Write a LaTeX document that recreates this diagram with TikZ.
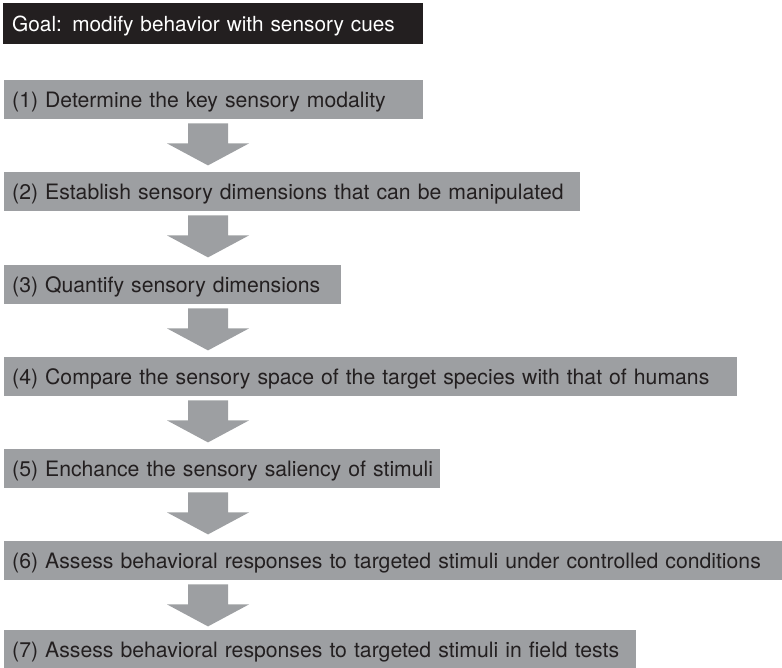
\documentclass[tikz,border=0pt]{standalone}
\usepackage{fontspec}
\setmainfont{TeX Gyre Heros}
\usetikzlibrary{positioning,calc}

\definecolor{stepgray}{HTML}{9D9FA2}
\definecolor{inkdark}{HTML}{231F20}

\begin{document}
\begin{tikzpicture}[
  x=1pt, y=-1pt,
  oneline/.style={execute at begin node={\hbox\bgroup}, execute at end node={\egroup}},
  goalbox/.style={rectangle, fill=inkdark, text=white, anchor=north west, align=left,
                  font=\fontsize{20.8}{24}\selectfont, oneline,
                  inner xsep=9pt, minimum height=41pt, text height=15pt, text depth=0pt,
                  text width=#1},
  stepbox/.style={rectangle, fill=stepgray, text=inkdark, anchor=north west, align=left,
                  font=\fontsize{21.2}{25}\selectfont, oneline,
                  inner xsep=8pt, minimum height=39pt, text height=15.5pt, text depth=0pt,
                  text width=#1},
  flow/.style={fill=stepgray},
]
\useasboundingbox (0,0) rectangle (782,668);

% goal
\node[goalbox=402pt] (goal) at (3,3) {Goal: modify behavior with sensory cues};

% steps
\node[stepbox=403pt] (s1) at (4,80)  {(1) Determine the key sensory modality};
\node[stepbox=560pt] (s2) at (4,172) {(2) Establish sensory dimensions that can be manipulated};
\node[stepbox=321pt] (s3) at (4,265) {(3) Quantify sensory dimensions};
\node[stepbox=717pt] (s4) at (4,357) {(4) Compare the sensory space of the target species with that of humans};
\node[stepbox=420pt] (s5) at (4,449) {(5) Enchance the sensory saliency of stimuli};
\node[stepbox=762pt] (s6) at (4,541) {(6) Assess behavioral responses to targeted stimuli under controlled conditions};
\node[stepbox=616pt] (s7) at (4,630) {(7) Assess behavioral responses to targeted stimuli in field tests};

% block arrows between steps
\foreach \a in {1,...,6} {
  \path (s\a.south west) ++(204,0) coordinate (top\a);
  \fill[flow] (top\a) ++(-20,4) -- ++(40,0) -- ++(0,20) -- ++(21,0)
    -- ++(-41,22) -- ++(-41,-22) -- ++(21,0) -- cycle;
}

\end{tikzpicture}
\end{document}
